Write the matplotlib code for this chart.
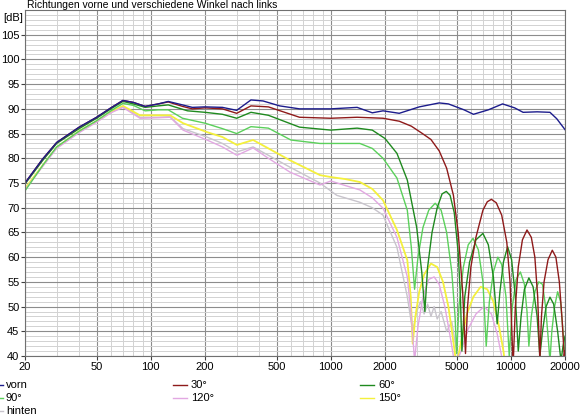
#!/usr/bin/env python3
"""
Frequenzgang vorne und unter verschiedenen Winkeln nach links
"""

import matplotlib
matplotlib.use("Agg")
import matplotlib.pyplot as plt
from matplotlib.lines import Line2D
from matplotlib.ticker import LogLocator, MultipleLocator, NullFormatter

freq_vorn = [20, 25, 30, 40, 50, 60, 70, 80, 93, 110, 125, 150, 170, 200, 250, 300, 330, 360, 420,
             520, 670, 1000, 1400, 1700, 1950, 2400, 3100, 4000, 4500, 5500, 6200, 7500, 9000,
             10500, 11700, 14000, 16500, 18000, 20000]
db_vorn = [75.0, 79.8, 83.2, 86.3, 88.3, 90.2, 91.7, 91.3, 90.5, 91.0, 91.5, 90.8, 90.3, 90.4, 90.3,
           89.7, 90.8, 91.8, 91.6, 90.6, 90.0, 90.0, 90.3, 89.2, 89.6, 89.1, 90.4, 91.2, 91.0, 89.8,
           88.9, 89.8, 91.0, 90.2, 89.3, 89.4, 89.3, 88.0, 85.8]

freq_30 = [20, 25, 30, 40, 50, 60, 70, 80, 93, 110, 125, 150, 170, 200, 250, 300, 360, 450, 670,
           1000, 1400, 1950, 2400, 2800, 3200, 3600, 4000, 4400, 4800, 5100, 5400, 5600,
           5750, 6000, 6400, 7000, 7400, 7800, 8300, 8900, 9500, 9900, 10300,
           10600, 11000, 11600, 12300, 13000, 13600, 14100, 14500,
           14800, 15300, 16100, 17000, 17800, 18600, 19300, 19800, 20000]
db_30 = [75.0, 79.8, 83.2, 86.3, 88.3, 90.2, 91.7, 91.3, 90.5, 91.0, 91.4, 90.5, 90.0, 90.2, 90.0,
         89.1, 90.6, 90.4, 88.3, 88.1, 88.3, 88.1, 87.5, 86.5, 85.1, 83.8, 81.5, 78.0, 72.5, 65.0,
         53.0, 40.5,
         50.0, 58.0, 64.0, 69.5, 71.2, 71.7, 71.0, 68.5, 63.0, 55.0, 38.0,
         50.0, 58.0, 63.5, 65.5, 64.0, 60.0, 52.0, 39.0,
         48.0, 55.0, 59.5, 61.4, 60.0, 55.0, 47.0, 40.0, 41.0]

freq_60 = [20, 25, 30, 40, 50, 60, 70, 80, 93, 110, 125, 160, 200, 250, 300, 360, 450, 670, 1000,
           1400, 1700, 2000, 2330, 2660, 3000, 3200, 3330,
           3450, 3650, 3900, 4150, 4380, 4600, 4850, 5100, 5250, 5350,
           5550, 5900, 6400, 7000, 7500, 8000, 8400,
           8700, 9100, 9600, 10100, 10600, 11000,
           11400, 11900, 12600, 13300, 14000, 14500,
           15000, 15700, 16500, 17300, 18200, 19000, 19500, 20000]
db_60 = [74.8, 79.5, 83.0, 86.0, 88.1, 90.0, 91.5, 91.0, 90.3, 90.6, 90.8, 89.6, 89.3, 88.9, 88.1,
         89.3, 88.7, 86.3, 85.7, 86.1, 85.7, 84.0, 81.0, 75.6, 66.0, 57.0, 49.0,
         58.0, 65.0, 70.0, 72.8, 73.3, 72.5, 69.0, 61.0, 52.0, 41.0,
         52.0, 59.0, 63.5, 64.8, 62.5, 56.0, 46.5,
         53.0, 59.0, 62.1, 59.5, 52.0, 41.0,
         48.0, 53.5, 55.8, 54.0, 48.0, 40.0,
         45.0, 50.0, 51.9, 50.5, 45.0, 39.0, 42.0, 44.0]

freq_90 = [20, 25, 30, 40, 50, 60, 70, 80, 93, 110, 125, 150, 200, 250, 300, 360, 450, 600, 870,
           1000, 1450, 1700, 1950, 2330, 2660, 2800, 2920,
           3050, 3250, 3500, 3800, 4100, 4400, 4700, 4900, 5000,
           5150, 5450, 5800, 6170, 6600, 7000, 7300,
           7600, 8000, 8470, 8900, 9400, 9800,
           10200, 10700, 11300, 11900, 12300, 12600,
           13000, 13600, 14300, 15000, 15600, 16100, 16500,
           16900, 17500, 18200, 18900, 19500, 20000]
db_90 = [73.4, 78.5, 82.3, 85.5, 87.6, 89.6, 91.1, 90.7, 89.6, 89.8, 89.8, 88.1, 87.1, 86.0, 85.0,
         86.4, 86.1, 83.7, 83.0, 83.0, 83.0, 82.0, 80.0, 76.0, 69.5, 62.0, 53.5,
         60.0, 66.0, 69.5, 70.9, 69.5, 65.0, 57.0, 48.0, 40.5,
         50.0, 58.0, 62.5, 63.8, 61.5, 55.0, 42.0,
         51.0, 57.0, 60.0, 58.5, 52.0, 40.0,
         50.0, 55.5, 57.0, 54.5, 49.0, 42.0,
         48.0, 53.0, 55.0, 54.5, 50.0, 44.0, 39.0,
         45.0, 50.0, 53.0, 51.0, 45.0, 40.0]

freq_120 = [20, 25, 30, 40, 50, 60, 70, 87, 110, 128, 151, 205, 250, 301, 370, 450, 593, 870, 1000,
            1200, 1450, 1700, 1950, 2330, 2660, 2800, 2920,
            3050, 3250, 3500, 3750, 4000, 4300, 4600, 4900,
            5300, 5800, 6400, 7100, 7800, 8400, 9000, 9400]
db_120 = [73.6, 78.3, 82.0, 85.2, 87.3, 89.2, 90.3, 88.1, 88.2, 88.3, 85.7, 83.7, 82.3, 80.6, 82.1,
          80.0, 77.2, 74.6, 75.4, 74.5, 73.6, 72.0, 69.9, 64.0, 56.0, 48.0, 39.0,
          46.0, 52.0, 55.5, 56.0, 54.5, 50.0, 44.0, 38.0,
          41.0, 45.5, 48.5, 50.0, 48.5, 44.5, 39.0, 37.0]

freq_150 = [20, 25, 30, 40, 50, 60, 70, 87, 110, 128, 151, 205, 250, 301, 370, 450, 593, 870, 1000,
            1200, 1450, 1700, 1950, 2330, 2660, 2780, 2850,
            2950, 3100, 3300, 3600, 3900, 4200, 4500, 4750, 5000,
            5300, 5700, 6200, 6800, 7400, 8000, 8600, 9100, 9400]
db_150 = [73.9, 78.5, 82.2, 85.5, 87.5, 89.4, 90.6, 88.7, 88.7, 88.7, 87.1, 85.3, 84.3, 82.7, 83.7,
          82.0, 79.6, 76.6, 76.2, 75.8, 75.2, 73.8, 71.5, 65.5, 59.4, 52.0, 42.5,
          48.0, 53.0, 56.5, 58.7, 58.0, 55.0, 50.0, 44.0, 38.0,
          43.0, 48.5, 52.0, 54.0, 53.5, 51.0, 46.0, 41.0, 37.0]

freq_hinten = [20, 25, 30, 40, 50, 60, 70, 87, 110, 128, 151, 205, 250, 301, 370, 450, 593, 870,
               1080, 1450, 1700, 1950, 2330, 2660, 2850, 3000, 3150, 3300, 3450, 3600, 3750, 3900,
               4100, 4400, 4700, 5000, 5300]
db_hinten = [73.8, 78.4, 82.1, 85.3, 87.4, 89.3, 90.4, 88.3, 88.3, 88.4, 86.0, 84.3, 83.0, 81.3,
             82.3, 80.6, 78.2, 75.0, 72.5, 71.1, 70.0, 68.5, 62.0, 52.0, 45.0, 49.0, 51.0, 48.5,
             50.5, 48.0, 50.0, 47.5, 49.0, 45.0, 47.0, 41.0, 38.0]

x_ticks = [20, 50, 100, 200, 500, 1000, 2000, 5000, 10000, 20000]
x_tick_labels = ["20", "50", "100", "200", "500", "1000", "2000", "5000", "10000", "20000"]
y_ticks = list(range(40, 110, 5))

TITLE = "Richtungen vorne und verschiedene Winkel nach links"

# Farben der Kurven
COLORS = {
    "vorn": "#1c1c8c",
    "30°": "#8e1a1a",
    "60°": "#1f8a1f",
    "90°": "#5ad05a",
    "120°": "#e2a8e2",
    "150°": "#f4f03c",
    "hinten": "#c8c4cc",
}
# ==============================================================================

W, H = 582, 418


def px(x, y):
    """pixel position (from top-left) -> figure fraction"""
    return x / W, 1 - y / H


def plot_chart():
    plt.rcParams["font.family"] = ["Liberation Sans", "DejaVu Sans"]
    fig = plt.figure(figsize=(W / 100, H / 100), dpi=100)
    ax = fig.add_axes([25 / W, 1 - 356 / H, 540 / W, 346 / H])

    series = [
        ("hinten", freq_hinten, db_hinten),
        ("150°", freq_150, db_150),
        ("120°", freq_120, db_120),
        ("90°", freq_90, db_90),
        ("60°", freq_60, db_60),
        ("30°", freq_30, db_30),
        ("vorn", freq_vorn, db_vorn),
    ]
    for name, f, db in series:
        lw = 1.3 if name == "150°" else 1.0
        ax.plot(f, db, color=COLORS[name], lw=lw, solid_joinstyle="round")

    ax.set_xscale("log")
    ax.set_xlim(20, 20000)
    ax.set_ylim(40, 110)

    ax.set_xticks(x_ticks)
    ax.set_xticklabels(x_tick_labels)
    ax.xaxis.set_minor_locator(LogLocator(base=10, subs=(3, 4, 6, 7, 8, 9), numticks=20))
    ax.xaxis.set_minor_formatter(NullFormatter())
    ax.set_yticks(y_ticks)
    ax.yaxis.set_minor_locator(MultipleLocator(1))

    ax.grid(which="major", color="#8c8c8c", lw=0.8)
    ax.grid(which="minor", color="#d2d2d2", lw=0.7)
    ax.set_axisbelow(True)

    ax.tick_params(which="major", length=3, width=0.8, color="#404040", labelsize=8, pad=1)
    ax.tick_params(which="minor", length=0)
    for s in ax.spines.values():
        s.set_color("#707070")
        s.set_linewidth(0.8)

    # Beschriftungen
    fig.text(*px(27, 7.5), TITLE, fontsize=7.5, va="baseline", ha="left")
    fig.text(*px(3, 18), "[dB]", fontsize=8, va="center", ha="left")

    # Legende (unten, drei Spalten)
    rows = [385, 398, 411]
    legend_items = [
        (-11, 6, ["vorn", "90°", "hinten"]),
        (173, 191, ["30°", "120°"]),
        (360, 378, ["60°", "150°"]),
    ]
    for x_line, x_text, names in legend_items:
        for row, name in zip(rows, names):
            x0, y0 = px(x_line, row)
            x1, _ = px(x_line + 14, row)
            fig.add_artist(Line2D([x0, x1], [y0, y0], color=COLORS[name], lw=1.0))
            fig.text(*px(x_text, row), name, fontsize=8, va="center", ha="left")

    fig.savefig("out.png", dpi=100)


if __name__ == "__main__":
    plot_chart()
